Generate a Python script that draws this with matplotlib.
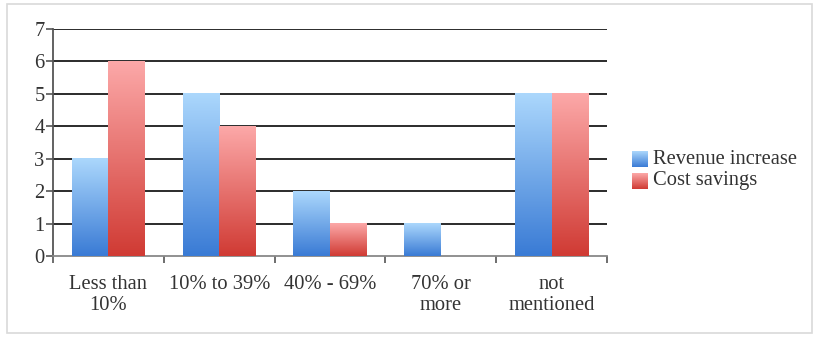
import matplotlib.pyplot as plt
import matplotlib.patches as mpatches
from matplotlib.colors import LinearSegmentedColormap
import numpy as np

categories = ["Less than\n10%", "10% to 39%", "40% - 69%", "70% or\nmore", "not\nmentioned"]
revenue_increase = [3, 5, 2, 1, 5]
cost_savings = [6, 4, 1, 0, 5]
series_names = ["Revenue increase", "Cost savings"]

blue_map = LinearSegmentedColormap.from_list("b", ["#3a7bd5", "#abd7fc"])
red_map = LinearSegmentedColormap.from_list("r", ["#d03b34", "#fca8a8"])
grad = np.linspace(0, 1, 100).reshape(-1, 1)

plt.rcParams['font.family'] = ['Liberation Serif', 'DejaVu Serif']
FS = 14.8

fig = plt.figure(figsize=(8.16, 3.37), dpi=100)
# light frame around the chart
fig.patches.append(mpatches.Rectangle((7 / 816, 4 / 337), 805 / 816, 329 / 337,
                                      transform=fig.transFigure, fill=False,
                                      edgecolor="#d9d9d9", linewidth=1.2))

ax = fig.add_axes([53 / 816, 81 / 337, 554 / 816, 227 / 337])

w = 0.33
x = np.arange(len(categories))

def gradient_bar(axes, xc, h, cmap, width):
    if h <= 0:
        return
    axes.imshow(grad, cmap=cmap, origin="lower", aspect="auto",
                extent=[xc - width / 2, xc + width / 2, 0, h], zorder=3)

for i in x:
    gradient_bar(ax, i - w / 2, revenue_increase[i], blue_map, w)
    gradient_bar(ax, i + w / 2, cost_savings[i], red_map, w)

ax.set_xlim(-0.5, 4.5)
ax.set_ylim(0, 7)

for y in range(1, 8):
    ax.axhline(y, color="#2b2b2b", linewidth=1.4, zorder=1)

for s in ["top", "right"]:
    ax.spines[s].set_visible(False)
ax.spines["left"].set_color("#555555")
ax.spines["bottom"].set_color("#888888")
ax.spines["left"].set_linewidth(1.3)
ax.spines["bottom"].set_linewidth(1.3)

ax.set_yticks(range(0, 8))
ax.tick_params(axis="y", length=5, width=1.2, color="#555555", labelsize=FS, pad=1)
ax.set_xticks(np.arange(-0.5, 5.0, 1.0))
ax.set_xticklabels([""] * 6)
ax.tick_params(axis="x", length=5, width=1.2, color="#555555")
ax.set_xticks(x, minor=True)
ax.set_xticklabels(categories, minor=True, fontsize=FS, color="#333333", linespacing=1.1)
ax.tick_params(axis="x", which="minor", length=0, pad=14)
for lbl in ax.get_yticklabels():
    lbl.set_color("#333333")

# legend with gradient swatches
leg_items = [(series_names[0], blue_map, 151), (series_names[1], red_map, 173)]
for name, cmap, ytop in leg_items:
    sw = fig.add_axes([632 / 816, (337 - ytop - 16) / 337, 16 / 816, 16 / 337])
    sw.imshow(grad, cmap=cmap, origin="lower", aspect="auto", extent=[0, 1, 0, 1])
    sw.axis("off")
    fig.text(653 / 816, (337 - ytop - 8) / 337, name, fontsize=FS, color="#333333",
             va="center", ha="left")

fig.savefig("out.png", dpi=100)
